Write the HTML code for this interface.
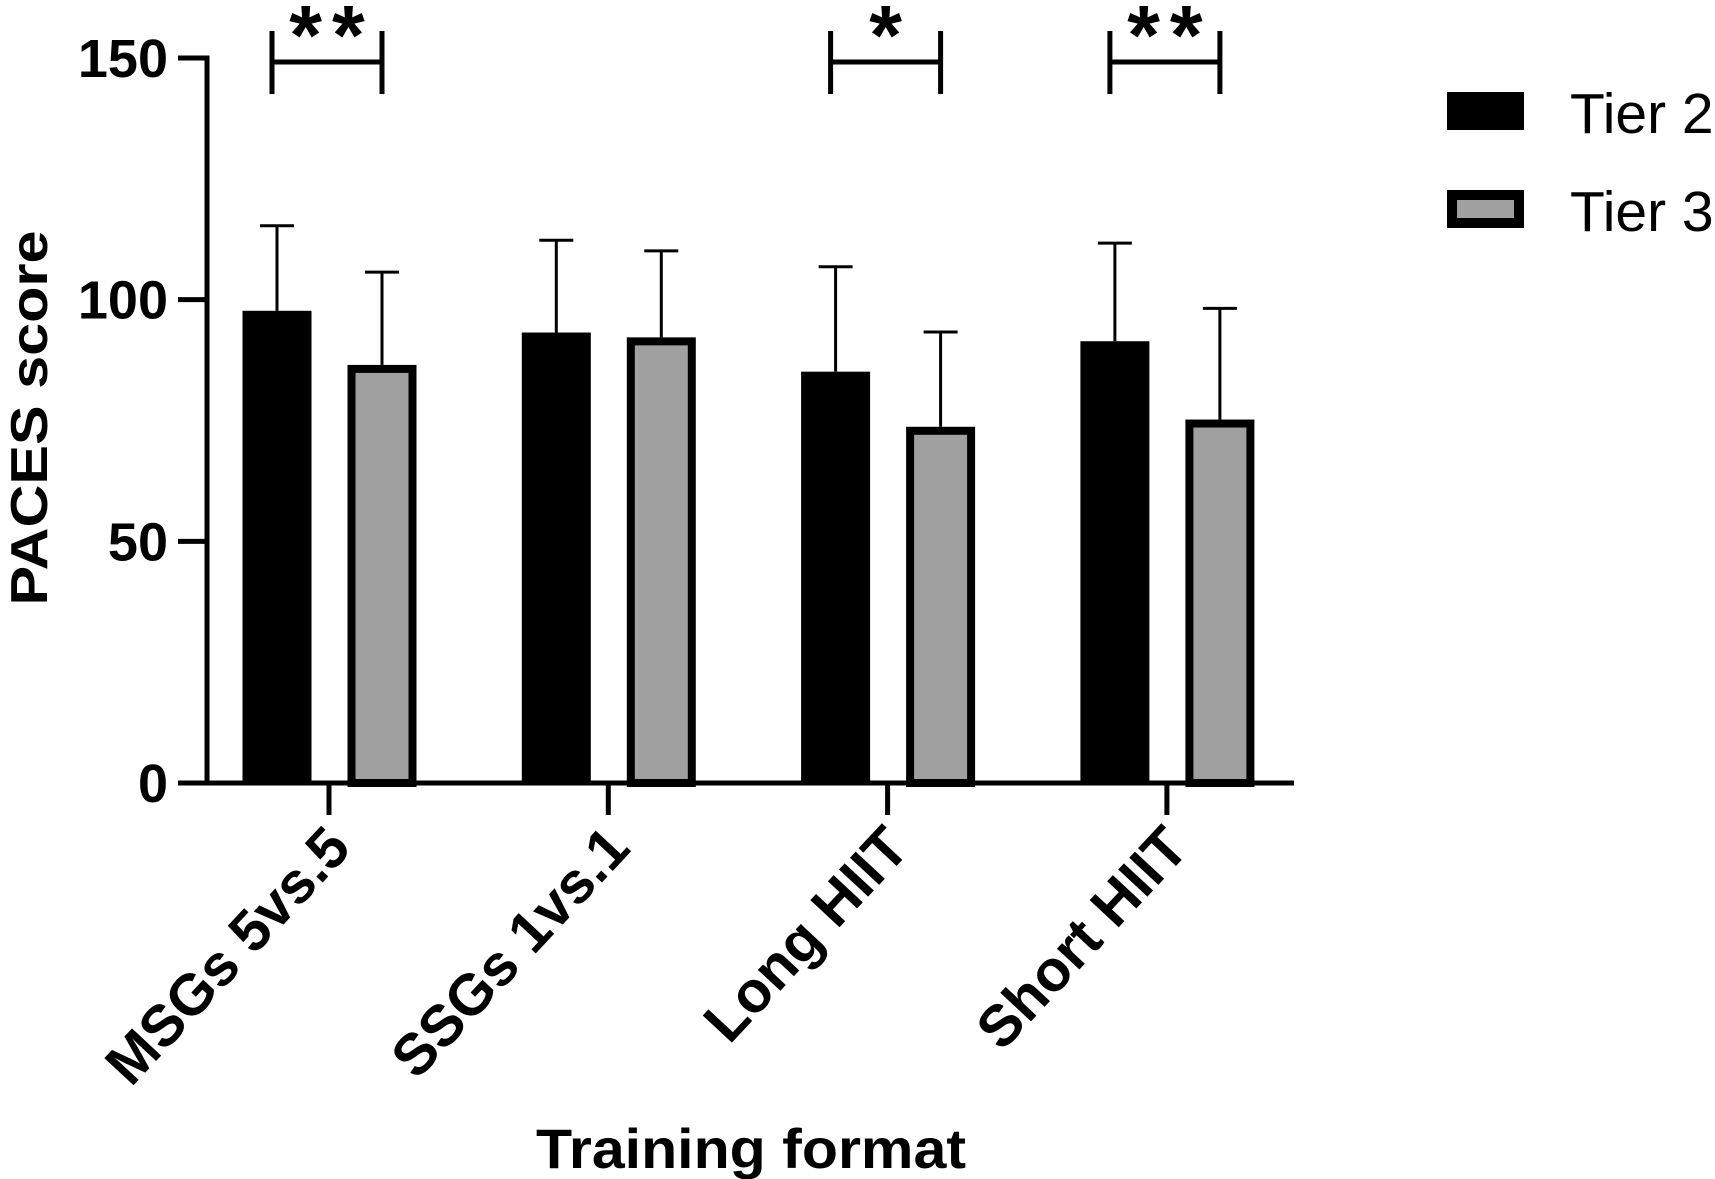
<!DOCTYPE html>
<html><head><meta charset="utf-8">
<style>html,body{margin:0;padding:0;background:#fff;}svg{display:block;font-family:"Liberation Sans",Arial,sans-serif;}</style>
</head><body>
<svg id="chart" width="1715" height="1179" viewBox="0 0 1715 1179" xmlns="http://www.w3.org/2000/svg"></svg>
<script>
const categories = ["MSGs 5vs.5", "SSGs 1vs.1", "Long HIIT", "Short HIIT"];
const tier2Means = [97.7, 93.2, 85.1, 91.4];
const tier2Errs = [115.3, 112.3, 106.8, 111.7];
const tier3Means = [86.5, 92.2, 73.7, 75.2];
const tier3Errs = [105.7, 110.1, 93.3, 98.2];
const yTicks = [0, 50, 100, 150];
const significance = ["**", "", "*", "**"];
const seriesNames = ["Tier 2", "Tier 3"];

const NS = "http://www.w3.org/2000/svg";
const svg = document.getElementById("chart");
function mk(tag, attrs, parent) {
  const e = document.createElementNS(NS, tag);
  for (const k in attrs) e.setAttribute(k, attrs[k]);
  (parent || svg).appendChild(e);
  return e;
}
const x0 = 207, baseY = 783, topY = 58, yMax = 150;
function yScale(v) { return baseY - v * (baseY - topY) / yMax; }
function xCenter(i) { return 329 + i * 279.3; }
const barW = 69;

let e = mk("line", {x1: x0, y1: topY - 2.5, x2: x0, y2: baseY + 2.5, stroke: "#000", "stroke-width": 5});


yTicks.forEach(t => {
  const y = yScale(t);
  let tk = mk("line", {x1: 178, y1: y, x2: x0, y2: y, stroke: "#000", "stroke-width": 5});
  
  
  let lb = mk("text", {x: 168, y: y + 19, "text-anchor": "end", "font-size": 54, "font-weight": "bold"});
  lb.textContent = t;
  
  
});
let yt = mk("text", {x: 0, y: 0, transform: "translate(47,418) rotate(-90)", "text-anchor": "middle", "font-size": 52, "font-weight": "bold", textLength: 375, lengthAdjust: "spacingAndGlyphs"});
yt.textContent = "PACES score";



categories.forEach((c, i) => {
  const cx = xCenter(i);
  const bx = cx - 52 - barW / 2, gx = cx + 53 - barW / 2;
  [[bx + barW / 2, tier2Means[i], tier2Errs[i]], [gx + barW / 2, tier3Means[i], tier3Errs[i]]].forEach((d, j) => {
    let l = mk("line", {x1: d[0], y1: yScale(d[1]), x2: d[0], y2: yScale(d[2]), stroke: "#000", "stroke-width": 3});
    
    
    let cap = mk("line", {x1: d[0] - 17, y1: yScale(d[2]), x2: d[0] + 17, y2: yScale(d[2]), stroke: "#000", "stroke-width": 3});
    
    
  });
  let b = mk("rect", {x: bx, y: yScale(tier2Means[i]), width: barW, height: baseY - yScale(tier2Means[i]), fill: "#000"});
  
  
  let g = mk("rect", {x: gx + 4, y: yScale(tier3Means[i]) + 4, width: barW - 8, height: baseY - yScale(tier3Means[i]) - 4, fill: "#a0a0a0", stroke: "#000", "stroke-width": 8});
  
  
  let xt = mk("line", {x1: cx, y1: baseY, x2: cx, y2: 815, stroke: "#000", "stroke-width": 5});
  
  
  let xl = mk("text", {x: 0, y: 0, transform: `translate(${cx + 24},${850}) rotate(-47)`, "text-anchor": "end", "font-size": 58, "font-weight": "bold"});
  xl.textContent = c;
  
  
  if (significance[i]) {
    const l = bx + barW / 2 - 5, r = gx + barW / 2;
    let p = mk("path", {d: `M${l} 31 V94 M${l} 62 H${r} M${r} 31 V94`, stroke: "#000", "stroke-width": 5, fill: "none"});
    
    
    let s = mk("text", {x: (l + r) / 2 + 5, y: 64, "text-anchor": "middle", "font-size": 84, "font-weight": "bold", "letter-spacing": 10});
    s.textContent = significance[i];
    
    
  }
});
e = mk("line", {x1: x0 - 2.5, y1: baseY, x2: 1294, y2: baseY, stroke: "#000", "stroke-width": 5});


let xtitle = mk("text", {x: 751, y: 1168, "text-anchor": "middle", "font-size": 56, "font-weight": "bold", textLength: 430, lengthAdjust: "spacingAndGlyphs"});
xtitle.textContent = "Training format";



let l1 = mk("rect", {x: 1447, y: 92, width: 77, height: 38, fill: "#000"});


let l2 = mk("rect", {x: 1452, y: 195, width: 67, height: 28, fill: "#a0a0a0", stroke: "#000", "stroke-width": 10});


[133, 231].forEach((y, j) => {
  let t = mk("text", {x: 1570, y: y, "font-size": 57});
  t.textContent = seriesNames[j];
  
  
});
</script>
</body></html>
